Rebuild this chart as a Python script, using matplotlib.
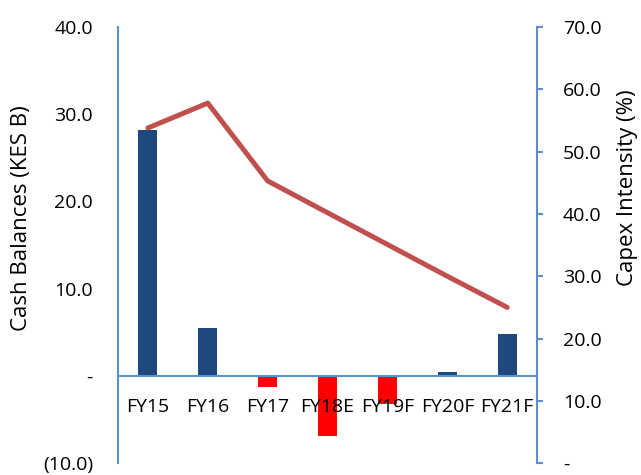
import matplotlib.pyplot as plt
import numpy as np
from matplotlib.ticker import FixedLocator, FuncFormatter

plt.rcParams['font.family'] = ['Open Sans', 'DejaVu Sans']

YEARS = ['FY15', 'FY16', 'FY17', 'FY18E', 'FY19F', 'FY20F', 'FY21F']
CASH = [28.2, 5.5, -1.3, -6.9, -3.2, 0.45, 4.8]
CAPEX = [53.8, 57.8, 45.3, 40.2, 35.1, 30.0, 25.0]

AXIS_BLUE = '#5B8FD0'
BAR_BLUE = '#1F497D'
NEG_RED = '#FF0000'
LINE_RED = '#C0504D'


def _left_fmt(v, pos):
    if abs(v) < 1e-9:
        return '-'
    if v < 0:
        return '(%.1f)' % abs(v)
    return '%.1f' % v


def _right_fmt(v, pos):
    if abs(v) < 1e-9:
        return '-'
    return '%.1f' % v


fig = plt.figure(figsize=(6.41, 4.75), dpi=100)
ax = fig.add_axes([0.184, 0.025, 0.654, 0.918])
ax2 = ax.twinx()
ax.set_axisbelow(False)

x = np.arange(len(YEARS))
colors = [BAR_BLUE if v >= 0 else NEG_RED for v in CASH]
ax.bar(x, CASH, width=0.32, color=colors, zorder=2)

ax.set_xlim(-0.5, len(YEARS) - 0.5)
ax.set_ylim(-10, 40)
ax.yaxis.set_major_locator(FixedLocator([-10, 0, 10, 20, 30, 40]))
ax.yaxis.set_major_formatter(FuncFormatter(_left_fmt))
ax.tick_params(axis='y', length=0, pad=18, labelsize=14)

# category labels sit just under the zero line
ax.spines['bottom'].set_position(('data', 0))
ax.spines['bottom'].set_color(AXIS_BLUE)
ax.spines['bottom'].set_linewidth(1.5)
ax.set_xticks(x)
ax.set_xticklabels(YEARS)
ax.tick_params(axis='x', length=0, pad=16, labelsize=14)

ax.spines['left'].set_color(AXIS_BLUE)
ax.spines['left'].set_linewidth(1.5)
for s in ['top', 'right']:
    ax.spines[s].set_visible(False)

ax2.plot(x, CAPEX, color=LINE_RED, linewidth=3.6, solid_capstyle='round',
         solid_joinstyle='round', zorder=4)
ax2.set_ylim(0, 70)
ax2.yaxis.set_major_locator(FixedLocator(np.arange(0, 71, 10)))
ax2.yaxis.set_major_formatter(FuncFormatter(_right_fmt))
ax2.tick_params(axis='y', length=4.5, width=1.5, color=AXIS_BLUE, pad=14, labelsize=14)
for s in ['top', 'left', 'bottom']:
    ax2.spines[s].set_visible(False)
ax2.spines['right'].set_color(AXIS_BLUE)
ax2.spines['right'].set_linewidth(1.5)

fig.text(22 / 641, 1 - 218 / 475, 'Cash Balances (KES B)', rotation=90,
         ha='center', va='center', fontsize=16)
fig.text(627 / 641, 1 - 188 / 475, 'Capex Intensity (%)', rotation=90,
         ha='center', va='center', fontsize=16)

fig.savefig('out.png', dpi=100)
